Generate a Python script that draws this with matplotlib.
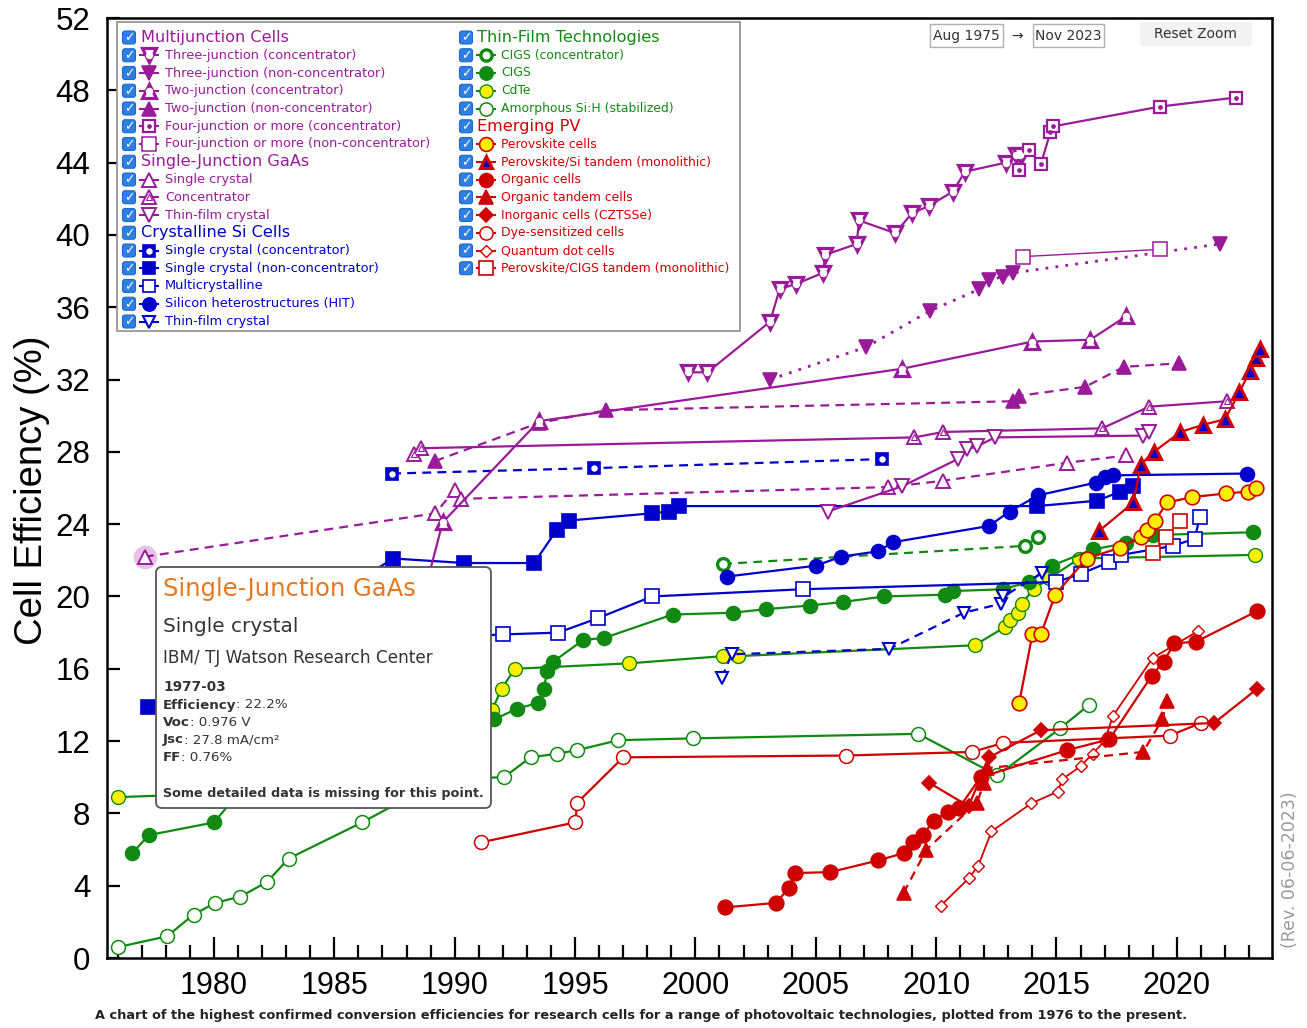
import matplotlib
matplotlib.use('Agg')
import matplotlib.pyplot as plt
from matplotlib.lines import Line2D
from matplotlib.patches import FancyBboxPatch, Rectangle
from matplotlib.transforms import IdentityTransform
from matplotlib.ticker import MultipleLocator

plt.rcParams['font.family'] = ['DejaVu Sans']

# ---------------- data: (year, efficiency %) ----------------
mj3c_year = [1999.7, 2000.5, 2003.1, 2003.5, 2004.2, 2005.3, 2005.4, 2006.7, 2006.8, 2008.3, 2009.0, 2009.7, 2010.7, 2011.2, 2012.9, 2013.3, 2013.5]
mj3c_eff = [32.4, 32.4, 35.2, 37.0, 37.3, 37.9, 38.9, 39.5, 40.8, 40.1, 41.2, 41.6, 42.4, 43.5, 44.0, 44.4, 44.4]
mj3n_year = [2003.1, 2007.1, 2009.75, 2011.8, 2012.2, 2012.8, 2013.2, 2021.8]
mj3n_eff = [32.0, 33.8, 35.8, 37.0, 37.5, 37.7, 37.9, 39.5]
mj2c_year = [1988.6, 1989.5, 1993.5, 2008.6, 2014.0, 2016.4, 2017.9]
mj2c_eff = [19.5, 24.1, 29.7, 32.6, 34.1, 34.2, 35.5]
mj2n_year = [1989.2, 1993.5, 1996.3, 2013.2, 2013.45, 2016.2, 2017.8, 2020.1]
mj2n_eff = [27.5, 29.6, 30.3, 30.8, 31.1, 31.6, 32.7, 32.9]
mj4c_year = [2013.45, 2013.85, 2014.35, 2014.75, 2014.85, 2019.3, 2022.45]
mj4c_eff = [43.6, 44.7, 43.9, 45.7, 46.0, 47.1, 47.6]
mj4n_year = [2013.6, 2019.3]
mj4n_eff = [38.8, 39.2]

gaas_sc_year = [1977.13, 1989.2, 1990.0, 1990.25, 2008.0, 2010.3, 2015.45, 2017.9]
gaas_sc_eff = [22.2, 24.6, 25.9, 25.4, 26.05, 26.4, 27.4, 27.8]
gaas_conc_year = [1988.3, 1988.6, 2009.1, 2010.3, 2016.9, 2018.85, 2022.1]
gaas_conc_eff = [27.9, 28.2, 28.8, 29.1, 29.3, 30.5, 30.8]
gaas_tf_year = [2005.5, 2008.6, 2010.9, 2011.3, 2011.7, 2012.45, 2018.6, 2018.85]
gaas_tf_eff = [24.7, 26.1, 27.6, 28.15, 28.3, 28.8, 28.9, 29.1]

si_conc_year = [1987.4, 1995.8, 2007.75]
si_conc_eff = [26.8, 27.1, 27.6]
si_sc_year = [1977.26, 1985.5, 1987.45, 1990.4, 1993.3, 1994.25, 1994.75, 1998.2, 1998.9, 1999.3, 2014.2, 2016.7, 2017.65, 2018.2]
si_sc_eff = [13.9, 20.5, 22.1, 21.85, 21.85, 23.7, 24.2, 24.6, 24.7, 25.0, 25.0, 25.3, 25.8, 26.1]
multi_year = [1984.5, 1990.5, 1992.0, 1994.3, 1995.95, 1998.2, 2004.45, 2015.0, 2016.0, 2017.2, 2017.7, 2019.85, 2020.75, 2020.95]
multi_eff = [15.5, 17.8, 17.9, 18.0, 18.8, 20.0, 20.4, 20.8, 21.25, 21.9, 22.3, 22.8, 23.2, 24.4]
hit_year = [2001.3, 2005.0, 2006.05, 2007.6, 2008.2, 2012.2, 2013.05, 2014.25, 2016.65, 2017.0, 2017.35, 2022.9]
hit_eff = [21.1, 21.7, 22.2, 22.5, 23.0, 23.9, 24.7, 25.6, 26.3, 26.6, 26.7, 26.8]
sitf_year = [2001.1, 2001.5, 2008.05, 2011.15, 2012.7, 2012.8, 2014.4]
sitf_eff = [15.5, 16.8, 17.1, 19.1, 19.6, 20.0, 21.3]

cigsc_year = [2001.15, 2013.7, 2014.25]
cigsc_eff = [21.8, 22.8, 23.3]
cigs_year = [1976.6, 1977.3, 1980.0, 1981.2, 1982.5, 1985.0, 1987.8, 1989.5, 1991.65, 1992.6, 1993.45, 1993.7, 1993.85, 1994.1, 1995.35, 1996.2, 1999.05, 2001.55, 2002.95, 2004.75, 2006.15, 2007.85, 2010.35, 2010.7, 2012.8, 2013.85, 2014.8, 2016.5, 2017.9, 2019.0, 2023.15]
cigs_eff = [5.8, 6.8, 7.5, 9.4, 10.0, 11.0, 12.5, 13.0, 13.2, 13.8, 14.1, 14.9, 15.9, 16.4, 17.6, 17.7, 19.0, 19.1, 19.3, 19.5, 19.7, 20.0, 20.1, 20.3, 20.4, 20.8, 21.7, 22.6, 22.95, 23.4, 23.55]
cdte_year = [1976.0, 1982.5, 1988.0, 1990.5, 1991.55, 1991.95, 1992.5, 1997.25, 2001.15, 2001.75, 2011.6, 2012.85, 2013.05, 2013.4, 2013.55, 2014.05, 2014.7, 2015.95, 2023.25]
cdte_eff = [8.9, 9.2, 12.0, 12.8, 13.7, 14.9, 16.0, 16.3, 16.7, 16.7, 17.3, 18.3, 18.7, 19.1, 19.6, 20.4, 21.0, 22.1, 22.3]
asi_year = [1976.0, 1978.05, 1979.15, 1980.05, 1981.1, 1982.2, 1983.1, 1986.15, 1989.5, 1992.05, 1993.15, 1994.25, 1995.1, 1996.8, 1999.9, 2009.25, 2012.55, 2015.15, 2016.35]
asi_eff = [0.6, 1.2, 2.4, 3.05, 3.4, 4.2, 5.5, 7.5, 9.9, 10.0, 11.1, 11.3, 11.5, 12.05, 12.15, 12.4, 10.1, 12.7, 14.0]

pero_year = [2013.45, 2014.0, 2014.35, 2014.95, 2016.25, 2017.65, 2018.5, 2018.75, 2019.1, 2019.6, 2020.65, 2022.05, 2022.95, 2023.3]
pero_eff = [14.1, 17.9, 17.9, 20.1, 22.1, 22.7, 23.3, 23.7, 24.2, 25.2, 25.5, 25.7, 25.8, 26.0]
psi_year = [2016.75, 2018.2, 2018.5, 2019.05, 2020.15, 2021.1, 2022.0, 2022.6, 2023.05, 2023.3, 2023.45]
psi_eff = [23.6, 25.2, 27.3, 28.0, 29.1, 29.5, 29.8, 31.3, 32.5, 33.2, 33.7]
org_year = [2001.25, 2003.35, 2003.9, 2004.15, 2005.6, 2007.6, 2008.65, 2009.05, 2009.45, 2009.9, 2010.5, 2010.95, 2011.85, 2015.45, 2017.2, 2018.95, 2019.45, 2019.9, 2020.8, 2023.35]
org_eff = [2.8, 3.05, 3.9, 4.7, 4.75, 5.4, 5.8, 6.4, 6.8, 7.6, 8.1, 8.3, 10.0, 11.5, 12.1, 15.6, 16.4, 17.4, 17.5, 19.2]
orgt_year = [2008.65, 2009.6, 2011.7, 2012.0, 2012.1, 2018.6, 2019.4, 2019.6]
orgt_eff = [3.6, 6.0, 8.6, 9.7, 10.5, 11.4, 13.2, 14.2]
czts_year = [2009.7, 2011.35, 2012.2, 2014.35, 2021.55, 2023.35]
czts_eff = [9.7, 8.4, 11.1, 12.6, 13.0, 14.9]
dye_year = [1991.1, 1995.0, 1995.1, 1997.0, 2006.25, 2011.5, 2012.8, 2019.7, 2021.0]
dye_eff = [6.4, 7.5, 8.6, 11.1, 11.2, 11.4, 11.9, 12.3, 13.0]
qd_year = [2010.2, 2011.35, 2011.75, 2012.3, 2013.95, 2015.05, 2015.25, 2016.0, 2016.5, 2017.0, 2017.35, 2019.0, 2020.9]
qd_eff = [2.9, 4.4, 5.1, 7.0, 8.55, 9.2, 9.9, 10.6, 11.3, 12.0, 13.4, 16.6, 18.1]
pcigs_year = [2019.0, 2019.55, 2020.15]
pcigs_eff = [22.4, 23.3, 24.2]

highlight_year = 1977.13
highlight_eff = 22.2

x_min, x_max = 1975.555, 2023.955
y_min, y_max = 0, 52

tooltip_title = "Single-Junction GaAs"
tooltip_sub = "Single crystal"
tooltip_org = "IBM/ TJ Watson Research Center"
tooltip_date = "1977-03"
tooltip_fields = [("Efficiency", ": 22.2%"), ("Voc", ": 0.976 V"), ("Jsc", ": 27.8 mA/cm\u00b2"), ("FF", ": 0.76%")]
tooltip_note = "Some detailed data is missing for this point."
caption = ("A chart of the highest confirmed conversion efficiencies for research cells for a range of "
           "photovoltaic technologies, plotted from 1976 to the present.")
revision = "(Rev. 06-06-2023)"

# ---------------- styles ----------------
PURPLE = '#9a1b9a'
BLUE = '#0000cc'
GREEN = '#118a11'
RED = '#d00000'
YELLOW = '#ffee00'
DASH = (0, (4, 2.8))
DOT = (0, (1, 2.6))

S = {
    'mj3c': dict(x=mj3c_year, y=mj3c_eff, c=PURPLE, ls='-', m='v', ms=10.5, fc='white', mew=2.3, inner=('o', 4.5, 'white', 'white')),
    'mj3n': dict(x=mj3n_year, y=mj3n_eff, c=PURPLE, ls=DOT, m='v', ms=10, fc=PURPLE, lw=2.0),
    'mj2c': dict(x=mj2c_year, y=mj2c_eff, c=PURPLE, ls='-', m='^', ms=10.5, fc='white', mew=2.3, inner=('o', 4.5, 'white', 'white')),
    'mj2n': dict(x=mj2n_year, y=mj2n_eff, c=PURPLE, ls=DASH, m='^', ms=10, fc=PURPLE),
    'mj4c': dict(x=mj4c_year, y=mj4c_eff, c=PURPLE, ls='-', m='s', ms=9, fc='white', mew=1.6, inner=('o', 2.6, PURPLE, PURPLE)),
    'mj4n': dict(x=mj4n_year, y=mj4n_eff, c=PURPLE, ls='-', m='s', ms=10, fc='white', mew=1.1, lw=1.0),
    'gsc': dict(x=gaas_sc_year, y=gaas_sc_eff, c=PURPLE, ls=DASH, m='^', ms=10, fc='white', mew=1.4),
    'gcon': dict(x=gaas_conc_year, y=gaas_conc_eff, c=PURPLE, ls='-', m='^', ms=10, fc='white', mew=1.4, inner=('^', 4.0, 'white', PURPLE)),
    'gtf': dict(x=gaas_tf_year, y=gaas_tf_eff, c=PURPLE, ls='-', m='v', ms=10, fc='white', mew=1.4),
    'sic': dict(x=si_conc_year, y=si_conc_eff, c=BLUE, ls=DASH, m='s', ms=9, fc=BLUE, inner=('o', 3.8, 'white', 'white')),
    'sisc': dict(x=si_sc_year, y=si_sc_eff, c=BLUE, ls='-', m='s', ms=9.5, fc=BLUE),
    'simc': dict(x=multi_year, y=multi_eff, c=BLUE, ls='-', m='s', ms=9.5, fc='white', mew=1.2),
    'hit': dict(x=hit_year, y=hit_eff, c=BLUE, ls='-', m='o', ms=10, fc=BLUE),
    'sitf': dict(x=sitf_year, y=sitf_eff, c=BLUE, ls=DASH, m='v', ms=9, fc='white', mew=1.5),
    'cigsc': dict(x=cigsc_year, y=cigsc_eff, c=GREEN, ls=DASH, m='o', ms=8.5, fc='white', mew=2.4),
    'cigs': dict(x=cigs_year, y=cigs_eff, c=GREEN, ls='-', m='o', ms=10, fc=GREEN),
    'cdte': dict(x=cdte_year, y=cdte_eff, c=GREEN, ls='-', m='o', ms=10, fc=YELLOW, mew=1.0),
    'asi': dict(x=asi_year, y=asi_eff, c=GREEN, ls='-', m='o', ms=10, fc='white', mew=1.1),
    'pero': dict(x=pero_year, y=pero_eff, c=RED, ls='-', m='o', ms=10.5, fc=YELLOW, mew=1.2),
    'psi': dict(x=psi_year, y=psi_eff, c=RED, ls='-', m='^', ms=9.5, fc=BLUE, mew=2.2),
    'org': dict(x=org_year, y=org_eff, c=RED, ls='-', m='o', ms=10.5, fc=RED),
    'orgt': dict(x=orgt_year, y=orgt_eff, c=RED, ls=DASH, m='^', ms=10, fc=RED),
    'czts': dict(x=czts_year, y=czts_eff, c=RED, ls='-', m='D', ms=7.5, fc=RED),
    'dye': dict(x=dye_year, y=dye_eff, c=RED, ls='-', m='o', ms=10, fc='white', mew=1.1),
    'qd': dict(x=qd_year, y=qd_eff, c=RED, ls='-', m='D', ms=6.5, fc='white', mew=1.0, lw=1.3),
    'pcigs': dict(x=pcigs_year, y=pcigs_eff, c=RED, ls='-', m='s', ms=10, fc='white', mew=1.2, lw=0.8),
}
ORDER = ['asi', 'cdte', 'cigs', 'cigsc', 'simc', 'sisc', 'sic', 'hit', 'sitf',
         'gsc', 'gcon', 'gtf', 'mj2n', 'mj2c', 'mj3n', 'mj3c', 'mj4n', 'mj4c',
         'dye', 'qd', 'czts', 'orgt', 'org', 'pcigs', 'pero', 'psi']

W, H = 1307, 1028
fig = plt.figure(figsize=(W / 100, H / 100), dpi=100)
fig.patch.set_facecolor('white')
ax = fig.add_axes([107 / W, 1 - 958 / H, (1272 - 107) / W, (958 - 18) / H])
ax.set_xlim(x_min, x_max)
ax.set_ylim(y_min, y_max)
ax.xaxis.set_major_locator(MultipleLocator(5))
ax.xaxis.set_minor_locator(MultipleLocator(1))
ax.yaxis.set_major_locator(MultipleLocator(4))
ax.tick_params(axis='x', which='major', direction='in', length=15, width=1.6, labelsize=22, pad=9,
               labelfontfamily='Liberation Sans')
ax.tick_params(axis='x', which='minor', direction='in', length=9.5, width=1.6)
ax.tick_params(axis='y', which='major', direction='in', length=9, width=1.6, labelsize=22.5, pad=12,
               labelfontfamily='Liberation Sans')
for sp in ax.spines.values():
    sp.set_linewidth(1.8)

# highlight halo
ax.plot([highlight_year], [highlight_eff], 'o', ms=17, mfc='#e6c3e6', mec='none', zorder=2.5)

for k in ORDER:
    s = S[k]
    ax.plot(s['x'], s['y'], color=s['c'], ls=s['ls'], lw=s.get('lw', 1.6), marker=s['m'], ms=s['ms'],
            mfc=s['fc'], mec=s['c'], mew=s.get('mew', 1.2), zorder=3)
    if 'inner' in s:
        im, ims, ifc, iec = s['inner']
        ax.plot(s['x'], s['y'], ls='none', marker=im, ms=ims, mfc=ifc, mec=iec, mew=0.8, zorder=3.1)

# ---------------- overlays in pixel coordinates ----------------
IT = IdentityTransform()


def P(x, y):
    return x, H - y


def ftext(x, y, s, **kw):
    kw.setdefault('transform', IT)
    return fig.text(*P(x, y), s, **kw)


# y label, caption, revision
ftext(32, 490, 'Cell Efficiency (%)', rotation=90, fontsize=27.5, family='Liberation Sans',
      ha='center', va='center')
ftext(641, 1016, caption, fontsize=9.3, weight='bold', ha='center', va='center', color='#222222')
ftext(1290, 870, revision, rotation=90, fontsize=12.5, color='#9a9a9a', ha='center', va='center')

# top-right controls
for (x0, x1, label) in [(930, 1003, 'Aug 1975'), (1033, 1104, 'Nov 2023')]:
    fig.add_artist(Rectangle(P(x0, 47), x1 - x0, 23, transform=IT, fc='white', ec='#b0b0b0', lw=1, zorder=20))
    ftext((x0 + x1) / 2, 36, label, fontsize=10, color='#333333', ha='center', va='center', zorder=21)
ftext(1017, 36, '\u2192', fontsize=10, color='#333333', ha='center', va='center')
fig.add_artist(FancyBboxPatch(P(1140, 46), 112, 24, boxstyle='round,pad=0,rounding_size=3', transform=IT,
                              fc='#f2f2f2', ec='none', zorder=20))
ftext(1196, 34, 'Reset Zoom', fontsize=10, color='#333333', ha='center', va='center', zorder=21)

# legend
fig.add_artist(Rectangle(P(117, 331), 740 - 117, 331 - 22, transform=IT, fc='white', ec='#8c8c8c', lw=1.2, zorder=20))


def checkbox(x, y):
    fig.add_artist(FancyBboxPatch(P(x - 6.5, y + 6.5), 13, 13, boxstyle='round,pad=0,rounding_size=2.5',
                                  transform=IT, fc='#2d7fe2', ec='#1c6ad0', lw=0.8, zorder=21))
    ftext(x, y + 0.5, '\u2713', fontsize=9, weight='bold', color='white', ha='center', va='center', zorder=22)


def legend_marker(x, y, s):
    fig.add_artist(Line2D([P(x - 9, y)[0], P(x + 9, y)[0]], [H - y, H - y], transform=IT, color=s['c'], lw=1.5, zorder=21))
    fig.add_artist(Line2D([P(x, y)[0]], [H - y], transform=IT, ls='none', marker=s['m'], ms=s['ms'] * 0.95,
                          mfc=s['fc'], mec=s['c'], mew=s.get('mew', 1.2), zorder=22))
    if 'inner' in s:
        im, ims, ifc, iec = s['inner']
        fig.add_artist(Line2D([P(x, y)[0]], [H - y], transform=IT, ls='none', marker=im, ms=ims,
                              mfc=ifc, mec=iec, mew=0.8, zorder=23))


left_entries = [
    ('h', 'Multijunction Cells', PURPLE), ('e', 'Three-junction (concentrator)', 'mj3c'),
    ('e', 'Three-junction (non-concentrator)', 'mj3n'), ('e', 'Two-junction (concentrator)', 'mj2c'),
    ('e', 'Two-junction (non-concentrator)', 'mj2n'), ('e', 'Four-junction or more (concentrator)', 'mj4c'),
    ('e', 'Four-junction or more (non-concentrator)', 'mj4n'),
    ('h', 'Single-Junction GaAs', PURPLE), ('e', 'Single crystal', 'gsc'), ('e', 'Concentrator', 'gcon'),
    ('e', 'Thin-film crystal', 'gtf'),
    ('h', 'Crystalline Si Cells', BLUE), ('e', 'Single crystal (concentrator)', 'sic'),
    ('e', 'Single crystal (non-concentrator)', 'sisc'), ('e', 'Multicrystalline', 'simc'),
    ('e', 'Silicon heterostructures (HIT)', 'hit'), ('e', 'Thin-film crystal', 'sitf'),
]
right_entries = [
    ('h', 'Thin-Film Technologies', GREEN), ('e', 'CIGS (concentrator)', 'cigsc'), ('e', 'CIGS', 'cigs'),
    ('e', 'CdTe', 'cdte'), ('e', 'Amorphous Si:H (stabilized)', 'asi'),
    ('h', 'Emerging PV', RED), ('e', 'Perovskite cells', 'pero'), ('e', 'Perovskite/Si tandem (monolithic)', 'psi'),
    ('e', 'Organic cells', 'org'), ('e', 'Organic tandem cells', 'orgt'), ('e', 'Inorganic cells (CZTSSe)', 'czts'),
    ('e', 'Dye-sensitized cells', 'dye'), ('e', 'Quantum dot cells', 'qd'),
    ('e', 'Perovskite/CIGS tandem (monolithic)', 'pcigs'),
]


def draw_column(entries, cbx, mx, tx, hx, fs):
    y = 37.5
    for kind, label, ref in entries:
        checkbox(cbx, y)
        if kind == 'h':
            ftext(hx, y, label, fontsize=11.6, color=ref, ha='left', va='center', zorder=22)
        else:
            s = S[ref]
            legend_marker(mx, y, s)
            ftext(tx, y, label, fontsize=fs, color=s['c'], ha='left', va='center', zorder=22)
        y += 17.75


draw_column(left_entries, 129, 149, 165, 141, 9.25)
draw_column(right_entries, 466, 486, 501, 477, 8.95)

# tooltip
fig.add_artist(FancyBboxPatch(P(156, 808), 335, 241, boxstyle='round,pad=0,rounding_size=6', transform=IT,
                              fc='white', ec='#555555', lw=1.3, zorder=30))
ftext(163, 589, tooltip_title, fontsize=17.5, color='#e6781e', ha='left', va='center', zorder=31)
ftext(163, 626, tooltip_sub, fontsize=14.4, color='#333333', ha='left', va='center', zorder=31)
ftext(163, 658, tooltip_org, fontsize=12.2, color='#333333', ha='left', va='center', zorder=31)
ftext(163, 687, tooltip_date, fontsize=9.8, weight='bold', color='#333333', ha='left', va='center', zorder=31)
renderer = fig.canvas.get_renderer()
yy = 705
for lab, val in tooltip_fields:
    t = ftext(163, yy, lab, fontsize=9.6, weight='bold', color='#333333', ha='left', va='center', zorder=31)
    bb = t.get_window_extent(renderer)
    fig.text(bb.x1, H - yy, val, transform=IT, fontsize=9.6, color='#333333', ha='left', va='center', zorder=31)
    yy += 17.5
ftext(163, 793, tooltip_note, fontsize=9.2, weight='bold', color='#333333', ha='left', va='center', zorder=31)

fig.savefig('out.png', dpi=100)
